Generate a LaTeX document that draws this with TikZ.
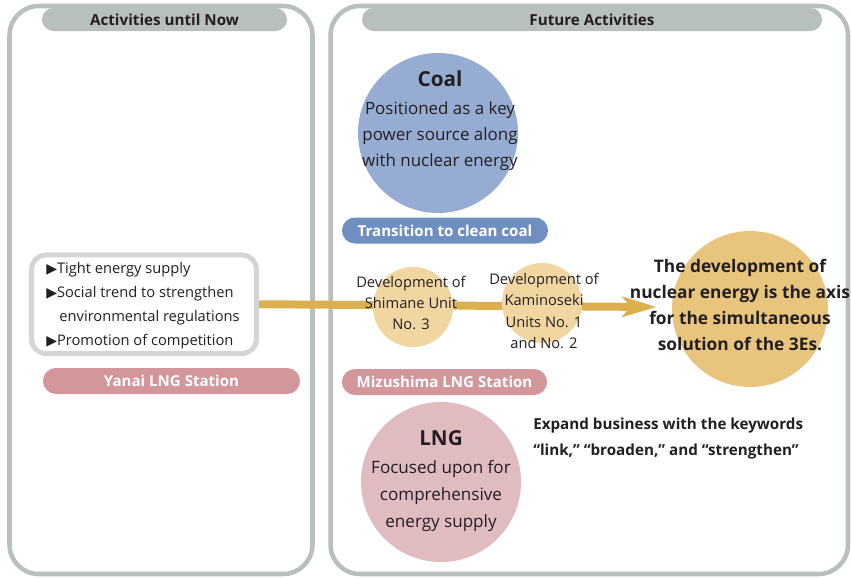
\documentclass[tikz,border=0pt]{standalone}
\usepackage{fontspec}
\setmainfont{Open Sans}
\newfontfamily\symfont{DejaVu Sans}
\usetikzlibrary{arrows.meta}
\definecolor{panelgray}{HTML}{B8C0BE}
\definecolor{boxgray}{HTML}{D3D6D5}
\definecolor{coalblue}{HTML}{97ACD3}
\definecolor{pillblue}{HTML}{6F8FC0}
\definecolor{pillpink}{HTML}{D3969B}
\definecolor{lngpink}{HTML}{E0BBBF}
\definecolor{gold}{HTML}{DCB04F}
\definecolor{lightgold}{HTML}{F1D6A2}
\definecolor{biggold}{HTML}{E8C47C}
\definecolor{ink}{HTML}{231F20}
\newcommand{\tri}{{\symfont\fontsize{10.5}{10}\selectfont ▶}}
\tikzset{
  panel/.style={draw=panelgray, line width=3.4pt, rounded corners=22pt, inner sep=0pt},
  header/.style={fill=panelgray, rounded corners=8.6pt, minimum height=17.25pt, inner sep=0pt,
    text=ink, font=\fontsize{11.4}{12}\selectfont\bfseries},
  pill/.style={rounded corners=9.7pt, minimum height=19.5pt, inner sep=0pt,
    text=white, font=\fontsize{11.3}{12}\selectfont\bfseries},
  disc/.style={circle, inner sep=0pt},
  txt/.style={text=ink, align=center, inner sep=0pt},
}
\begin{document}
\begin{tikzpicture}[x=0.75pt,y=-0.75pt]
\useasboundingbox (0,0) rectangle (851,578);
% panels
\node[panel, minimum width=227.25pt, minimum height=426pt] (lp) at (161,290) {};
\node[panel, minimum width=388.1pt, minimum height=426pt] (rp) at (589.25,290) {};
\node[header, minimum width=183.75pt] (lh) at (164.5,19.5) {Activities until Now};
\node[header, minimum width=345pt] (rh) at (592,19.5) {Future Activities};
% left box
\node[draw=boxgray, line width=3.75pt, fill=white, rounded corners=11pt,
  minimum width=168.75pt, minimum height=73.9pt, inner sep=0pt] (box) at (144,304.25) {};
\node[txt, align=left, anchor=west, font=\fontsize{11}{18}\selectfont] (boxtext) at (46,306)
  {\tri Tight energy supply\\ \tri Social trend to strengthen\\ \hphantom{\tri}\,environmental regulations\\ \tri Promotion of competition};
\node[pill, fill=pillpink, minimum width=192.75pt] (yanai) at (171.5,381) {Yanai LNG Station};
% arrow
\draw[gold, line width=6pt, -{Stealth[length=26pt, width=16pt, inset=7pt, line width=0pt]}]
  (box.east) -- (656,307) coordinate (tip);
% circles
\node[disc, fill=coalblue, minimum size=120pt] (coal) at (438,133) {};
\node[txt, font=\fontsize{12.7}{19.5}\selectfont] (coaltext) at (440,121)
  {{\fontsize{15.5}{18}\selectfont\bfseries Coal}\\[1.5pt] Positioned as a key\\ power source along\\ with nuclear energy};
\node[pill, fill=pillblue, minimum width=154.5pt] (clean) at (445,230.5) {Transition to clean coal};
\node[disc, fill=lightgold, minimum size=60pt] (shimane) at (413,307) {};
\node[txt, font=\fontsize{11}{16}\selectfont] (shimanetext) at (411,303)
  {Development of\\ Shimane Unit\\ No. 3};
\node[disc, fill=lightgold, minimum size=60pt] (kami) at (542,303) {};
\node[txt, font=\fontsize{11}{16}\selectfont] (kamitext) at (544,311)
  {Development of\\ Kaminoseki\\ Units No. 1\\ and No. 2};
\node[disc, fill=biggold, minimum size=117pt] (big) at (750,309) {};
\node[txt, font=\fontsize{13}{19.5}\selectfont\bfseries] (bigtext) at (740,305)
  {The development of\\ nuclear energy is the axis\\ for the simultaneous\\ solution of the 3Es.};
\node[pill, fill=pillpink, minimum width=153.75pt] (mizu) at (444.5,382) {Mizushima LNG Station};
\node[disc, fill=lngpink, minimum size=120pt] (lng) at (441,482) {};
\node[txt, font=\fontsize{12.8}{20}\selectfont] (lngtext) at (441,481)
  {{\fontsize{15.5}{18}\selectfont\bfseries LNG}\\[1pt] Focused upon for\\ comprehensive\\ energy supply};
\node[txt, align=left, anchor=west, font=\fontsize{11.4}{19.5}\selectfont\bfseries] (expand) at (533,438.5)
  {Expand business with the keywords\\ “link,” “broaden,” and “strengthen”};
\end{tikzpicture}
\end{document}
